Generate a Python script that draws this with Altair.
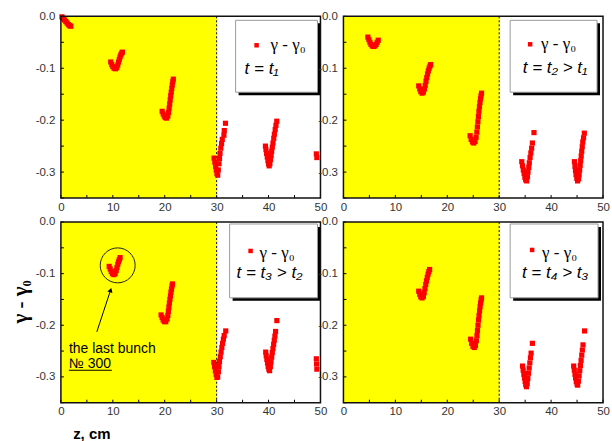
import altair as alt
import pandas as pd

# ---------------- data ----------------
Z_DOMAIN = [0, 50]
G_DOMAIN = [-0.35, 0.0]
Z_LABELS = [0, 10, 20, 30, 40, 50]
G_LABELS = [0.0, -0.1, -0.2, -0.3]
Z_MINOR = [0, 5, 10, 15, 20, 25, 30, 35, 40, 45, 50]
G_MINOR = [0.0, -0.05, -0.1, -0.15, -0.2, -0.25, -0.3, -0.35]
SHADED_FROM, SHADED_TO = 0, 30
SERIES = "γ - γ₀"
TIME_LABELS = ["t = t₁", "t = t₂ > t₁", "t = t₃ > t₂", "t = t₄ > t₃"]
NOTE_LINES = ["the last bunch", "№ 300"]
NOTE_Z, NOTE_G = 10.94, -0.084
X_TITLE = "z, cm"
Y_TITLE = "γ - γ₀"

# panel 1: t = t1
T1_Z = [0.2, 0.45, 0.7, 0.95, 1.2, 1.45, 1.7, 1.9,
        9.6, 9.8, 10.0, 10.25, 10.5, 10.75, 10.95, 11.1, 11.25, 11.4, 11.55, 11.7, 11.85,
        19.5, 19.7, 19.9, 20.1, 20.35, 20.6, 20.75, 20.85, 20.95, 21.05, 21.15, 21.25, 21.35, 21.45, 21.55, 21.65,
        29.5, 29.65, 29.8, 29.92, 30.05, 30.2, 30.32, 30.45, 30.55, 30.65, 30.8, 30.95, 31.08, 31.4, 31.47, 31.7,
        39.4, 39.5, 39.62, 39.75, 39.88, 40.0, 40.12, 40.25, 40.38, 40.5, 40.6, 40.72, 40.85, 41.0, 41.12, 41.28, 41.42, 41.58,
        49.2, 49.3]
T1_G = [-0.001, -0.004, -0.007, -0.010, -0.013, -0.016, -0.018, -0.019,
        -0.088, -0.093, -0.097, -0.100, -0.101, -0.099, -0.094, -0.088, -0.083, -0.078, -0.074, -0.071, -0.069,
        -0.183, -0.188, -0.192, -0.195, -0.196, -0.192, -0.185, -0.177, -0.169, -0.161, -0.153, -0.146, -0.139, -0.132, -0.126, -0.121,
        -0.273, -0.281, -0.289, -0.296, -0.303, -0.306, -0.296, -0.284, -0.274, -0.264, -0.254, -0.245, -0.237, -0.229, -0.220, -0.206,
        -0.250, -0.257, -0.264, -0.271, -0.278, -0.284, -0.288, -0.284, -0.276, -0.268, -0.260, -0.252, -0.244, -0.235, -0.227, -0.218, -0.210, -0.202,
        -0.265, -0.272]

# panel 2: t = t2
T2_Z = [4.7, 4.9, 5.1, 5.3, 5.55, 5.8, 6.05, 6.3, 6.5, 6.7,
        14.5, 14.7, 14.9, 15.15, 15.4, 15.6, 15.75, 15.9, 16.05, 16.2, 16.35, 16.5, 16.65, 16.8,
        24.4, 24.6, 24.85, 25.1, 25.35, 25.55, 25.7, 25.8, 25.9, 26.0, 26.1, 26.2, 26.3, 26.4, 26.5, 26.6,
        34.35, 34.5, 34.65, 34.8, 34.95, 35.1, 35.3, 35.45, 35.55, 35.7, 35.8, 35.95, 36.1, 36.25, 36.4, 36.7,
        44.5, 44.6, 44.7, 44.8, 44.95, 45.1, 45.3, 45.4, 45.5, 45.6, 45.7, 45.8, 45.9, 46.0, 46.1, 46.25, 46.4]
T2_G = [-0.040, -0.045, -0.050, -0.054, -0.057, -0.058, -0.057, -0.054, -0.050, -0.046,
        -0.134, -0.140, -0.145, -0.148, -0.146, -0.140, -0.133, -0.125, -0.118, -0.111, -0.105, -0.100, -0.096, -0.093,
        -0.230, -0.237, -0.242, -0.244, -0.241, -0.233, -0.223, -0.213, -0.203, -0.193, -0.183, -0.174, -0.166, -0.159, -0.153, -0.148,
        -0.280, -0.288, -0.296, -0.303, -0.310, -0.315, -0.317, -0.309, -0.300, -0.291, -0.282, -0.272, -0.263, -0.254, -0.244, -0.224,
        -0.280, -0.289, -0.297, -0.305, -0.312, -0.317, -0.313, -0.305, -0.296, -0.287, -0.278, -0.269, -0.260, -0.251, -0.242, -0.234, -0.225]

# panel 3: t = t3
T3_Z = [9.3, 9.5, 9.7, 9.95, 10.2, 10.45, 10.65, 10.8, 10.95, 11.1, 11.25, 11.4,
        19.3, 19.5, 19.7, 19.95, 20.2, 20.45, 20.6, 20.7, 20.8, 20.9, 21.0, 21.1, 21.2, 21.3, 21.4, 21.5,
        29.45, 29.6, 29.75, 29.9, 30.05, 30.2, 30.35, 30.45, 30.55, 30.7, 30.85, 31.0, 31.15, 31.3, 31.45, 31.75,
        39.45, 39.55, 39.67, 39.8, 39.92, 40.05, 40.2, 40.35, 40.47, 40.6, 40.72, 40.85, 40.98, 41.1, 41.22, 41.35, 41.6,
        49.2, 49.25, 49.3]
T3_G = [-0.086, -0.091, -0.096, -0.100, -0.102, -0.100, -0.094, -0.088, -0.082, -0.077, -0.073, -0.069,
        -0.180, -0.185, -0.190, -0.193, -0.193, -0.188, -0.181, -0.173, -0.165, -0.157, -0.150, -0.143, -0.136, -0.130, -0.124, -0.120,
        -0.272, -0.280, -0.288, -0.295, -0.301, -0.300, -0.290, -0.280, -0.270, -0.261, -0.252, -0.243, -0.235, -0.227, -0.220, -0.211,
        -0.252, -0.259, -0.266, -0.273, -0.280, -0.285, -0.288, -0.280, -0.271, -0.262, -0.253, -0.245, -0.237, -0.229, -0.221, -0.212, -0.191,
        -0.265, -0.275, -0.285]

# panel 4: t = t4
T4_Z = [14.5, 14.7, 14.9, 15.15, 15.4, 15.55, 15.7, 15.85, 16.0, 16.15, 16.3, 16.45, 16.6,
        24.5, 24.7, 24.95, 25.2, 25.42, 25.6, 25.72, 25.82, 25.92, 26.02, 26.12, 26.22, 26.32, 26.42, 26.52, 26.6,
        34.5, 34.62, 34.75, 34.88, 35.0, 35.12, 35.25, 35.4, 35.52, 35.65, 35.78, 35.9, 36.02, 36.15, 36.4,
        44.35, 44.47, 44.6, 44.72, 44.85, 45.0, 45.12, 45.27, 45.4, 45.52, 45.65, 45.78, 45.9, 46.02, 46.15, 46.45]
T4_G = [-0.134, -0.140, -0.145, -0.147, -0.144, -0.137, -0.129, -0.121, -0.114, -0.107, -0.101, -0.096, -0.092,
        -0.227, -0.235, -0.241, -0.243, -0.239, -0.230, -0.220, -0.210, -0.200, -0.190, -0.181, -0.172, -0.164, -0.157, -0.151, -0.147,
        -0.279, -0.287, -0.295, -0.302, -0.309, -0.315, -0.319, -0.313, -0.303, -0.293, -0.283, -0.273, -0.263, -0.254, -0.235,
        -0.279, -0.287, -0.295, -0.302, -0.309, -0.314, -0.316, -0.308, -0.298, -0.288, -0.278, -0.268, -0.258, -0.248, -0.238, -0.211]

# ---------------- chart ----------------
W = 260
ONE = pd.DataFrame({"k": [0]})
SANS = "Liberation Sans"
SERIF = "Liberation Serif"

xs = alt.Scale(domain=Z_DOMAIN, nice=False, zero=False)
ys = alt.Scale(domain=G_DOMAIN, nice=False, zero=False)
XAX = alt.Axis(values=Z_LABELS, format="d", title=None, grid=False, domain=False,
               ticks=False, labelPadding=3, labelFont=SANS, labelFontSize=11.5,
               labelColor="#333", labelFlush=False)
YAX = alt.Axis(values=G_LABELS,
               labelExpr="datum.value == 0 ? '0.0' : '-' + format(-datum.value, '.1f')",
               title=None, grid=False, domain=False, ticks=False, labelPadding=6,
               labelFont=SANS, labelFontSize=11.5, labelColor="#333")


def X(f="z"):
    return alt.X(f"{f}:Q", scale=xs, axis=XAX)


def Y(f="g"):
    return alt.Y(f"{f}:Q", scale=ys, axis=YAX)


def panel(zs, gs, h, leg, extras=()):
    shade = alt.Chart(pd.DataFrame({"z": [SHADED_FROM], "z2": [SHADED_TO],
                                    "g": [G_DOMAIN[0]], "g2": [G_DOMAIN[1]]})).mark_rect(
        color="#FFFF00").encode(x=X(), x2=alt.X2("z2"), y=Y(), y2=alt.Y2("g2"))
    xtick = alt.Chart(pd.DataFrame({"z": Z_MINOR})).mark_rule(color="black", strokeWidth=1).encode(
        x=X(), y=alt.value(h), y2=alt.value(h - 3))
    ytick = alt.Chart(pd.DataFrame({"g": G_MINOR})).mark_rule(color="black", strokeWidth=1).encode(
        y=Y(), x=alt.value(0), x2=alt.value(3))
    dash = alt.Chart(pd.DataFrame({"z": [SHADED_TO]})).mark_rule(
        color="black", strokeDash=[2, 2], strokeWidth=1).encode(x=X())
    pts = alt.Chart(pd.DataFrame({"z": zs, "g": gs})).mark_square(
        color="#FF0000", size=27, opacity=1).encode(x=X(), y=Y())

    bx1, by1, bx2, by2 = leg["box"]
    shadow = alt.Chart(ONE).mark_rect(color="black").encode(
        x=alt.value(bx1 + 3), x2=alt.value(bx2 + 3), y=alt.value(by1 + 3), y2=alt.value(by2 + 3))
    box = alt.Chart(ONE).mark_rect(fill="white", stroke="#9a9a9a", strokeWidth=1).encode(
        x=alt.value(bx1), x2=alt.value(bx2), y=alt.value(by1), y2=alt.value(by2))
    mk = alt.Chart(ONE).mark_square(color="#FF0000", size=20, opacity=1).encode(
        x=alt.value(leg["mk"][0]), y=alt.value(leg["mk"][1]))
    nm = alt.Chart(ONE).mark_text(font=SERIF, fontSize=17, align="left", baseline="middle",
                                  color="black").encode(
        x=alt.value(leg["nm"][0]), y=alt.value(leg["nm"][1]), text=alt.value(SERIES))
    tt = alt.Chart(ONE).mark_text(font=SANS, fontSize=17, fontStyle="italic",
                                  align=leg["t"][2], baseline="middle", color="black").encode(
        x=alt.value(leg["t"][0]), y=alt.value(leg["t"][1]), text=alt.value(leg["label"]))
    frame = alt.Chart(ONE).mark_rect(fill="white", fillOpacity=0, stroke="#111",
                                     strokeWidth=1.5).encode(
        x=alt.value(0), x2=alt.value(W), y=alt.value(0), y2=alt.value(h))
    layers = [shade, xtick, ytick, dash, pts, shadow, box, mk, nm, tt, frame] + list(extras)
    return alt.layer(*layers).properties(width=W, height=h)


# annotations of panel 3
circle = alt.Chart(pd.DataFrame({"z": [NOTE_Z], "g": [NOTE_G]})).mark_point(
    shape="circle", size=1225, filled=False, color="#222", strokeWidth=1, opacity=1).encode(
    x=X(), y=Y())
arrow = alt.Chart(ONE).mark_rule(color="black", strokeWidth=1).encode(
    x=alt.value(36), y=alt.value(110), x2=alt.value(49.6), y2=alt.value(68.8))
head = alt.Chart(ONE).mark_point(shape="triangle-up", size=28, filled=True, color="black",
                                 angle=18, opacity=1).encode(
    x=alt.value(49.8), y=alt.value(68.2))
note1 = alt.Chart(ONE).mark_text(font=SANS, fontSize=14, align="left", baseline="alphabetic",
                                 color="black").encode(
    x=alt.value(8), y=alt.value(131), text=alt.value(NOTE_LINES[0]))
note2 = alt.Chart(ONE).mark_text(font=SANS, fontSize=14, align="left", baseline="alphabetic",
                                 color="black").encode(
    x=alt.value(8), y=alt.value(146), text=alt.value(NOTE_LINES[1]))
uline = alt.Chart(ONE).mark_rule(color="black", strokeWidth=1).encode(
    x=alt.value(8), x2=alt.value(51), y=alt.value(148.5))
ytitle = alt.Chart(ONE).mark_text(font=SERIF, fontSize=21, fontWeight="bold", angle=270,
                                  align="center", baseline="middle", color="black").encode(
    x=alt.value(-40), y=alt.value(80), text=alt.value(Y_TITLE))
xtitle = alt.Chart(ONE).mark_text(font=SANS, fontSize=15, fontWeight="bold",
                                  align="center", baseline="middle", color="black").encode(
    x=alt.value(31), y=alt.value(212), text=alt.value(X_TITLE))

p1 = panel(T1_Z, T1_G, 182, dict(box=(175, 4, 257, 76), mk=(196, 29), nm=(210, 29),
                                 t=(184, 53, "left"), label=TIME_LABELS[0]))
p2 = panel(T2_Z, T2_G, 182, dict(box=(167, 4, 254, 76), mk=(187, 28), nm=(198, 28),
                                 t=(212, 52, "center"), label=TIME_LABELS[1]))
p3 = panel(T3_Z, T3_G, 181, dict(box=(169, 2, 257, 76), mk=(190, 29), nm=(199, 31),
                                 t=(209, 51, "center"), label=TIME_LABELS[2]),
           extras=[circle, arrow, head, note1, note2, uline, ytitle, xtitle])
p4 = panel(T4_Z, T4_G, 181, dict(box=(167, 2, 255, 76), mk=(189, 28), nm=(199, 31),
                                 t=(212, 51, "center"), label=TIME_LABELS[3]))

chart = alt.concat(p1, p2, p3, p4, columns=2, bounds="flush",
                   spacing={"row": 24, "column": 23}).properties(
    padding={"left": 10, "top": 10, "right": 2, "bottom": 0},
    background="white",
).configure_view(stroke=None)

chart.save("out.html", embed_options={"renderer": "svg", "actions": False})
